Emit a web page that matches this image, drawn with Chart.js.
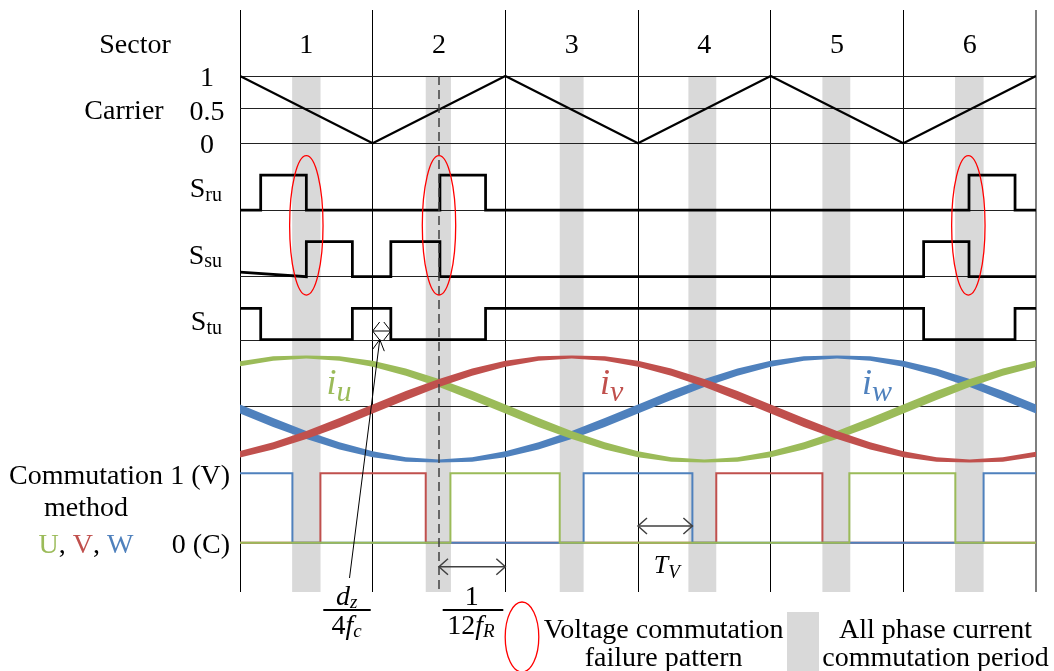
<!DOCTYPE html>
<html>
<head>
<meta charset="utf-8">
<script src="https://cdn.jsdelivr.net/npm/chart.js@4.4.0/dist/chart.umd.min.js"></script>
<style>
  html, body { margin: 0; padding: 0; background: #fff; }
</style>
</head>
<body>
<canvas id="myChart" width="1054" height="671"></canvas>
<script>
// x is measured in sectors (0 .. 6)
var sectorLabels = ["1", "2", "3", "4", "5", "6"];
var carrierX = [0, 1, 2, 3, 4, 5, 6];
var carrierY = [1, 0, 1, 0, 1, 0, 1];
var carrierTicks = [1, 0.5, 0];

// switching signals: level at x = 0, then the toggle positions
var sruStart = 0;
var sruEdges = [0.156, 0.50, 1.507, 1.851, 5.495, 5.842];
var ssuStart = 0.13;
var ssuEdges = [0.50, 0.847, 1.137, 1.507, 5.153, 5.495];
var stuStart = 1;
var stuEdges = [0.156, 0.847, 1.137, 1.851, 5.153, 5.842];

// phase currents (per unit), read every quarter sector
var currentX = [0, 0.25, 0.5, 0.75, 1, 1.25, 1.5, 1.75, 2, 2.25, 2.5, 2.75, 3,
    3.25, 3.5, 3.75, 4, 4.25, 4.5, 4.75, 5, 5.25, 5.5, 5.75, 6];
var iuValues = [0.87, 0.97, 1.00, 0.97, 0.87, 0.71, 0.50, 0.26, 0.00, -0.26, -0.50, -0.71, -0.87,
    -0.97, -1.00, -0.97, -0.87, -0.71, -0.50, -0.26, 0.00, 0.26, 0.50, 0.71, 0.87];
var ivValues = [-0.87, -0.71, -0.50, -0.26, 0.00, 0.26, 0.50, 0.71, 0.87, 0.97, 1.00, 0.97, 0.87,
    0.71, 0.50, 0.26, 0.00, -0.26, -0.50, -0.71, -0.87, -0.97, -1.00, -0.97, -0.87];
var iwValues = [0.00, -0.26, -0.50, -0.71, -0.87, -0.97, -1.00, -0.97, -0.87, -0.71, -0.50, -0.26, 0.00,
    0.26, 0.50, 0.71, 0.87, 0.97, 1.00, 0.97, 0.87, 0.71, 0.50, 0.26, 0.00];

// commutation method, 1 = V, 0 = C
var comUStart = 0;
var comUEdges = [1.586, 2.41, 4.593, 5.392];
var comVStart = 0;
var comVEdges = [0.606, 1.40, 3.59, 4.39];
var comWStart = 1;
var comWEdges = [0.395, 2.59, 3.41, 5.605];

// all phase current commutation periods
var bandStart = [0.393, 1.40, 2.41, 3.38, 4.39, 5.39];
var bandEnd = [0.607, 1.59, 2.59, 3.59, 4.60, 5.605];

// voltage commutation failure patterns
var failureX = [0.5, 1.5, 5.49];

var dashX = 1.5;
var dzArrow = [1.0, 1.137];
var fRArrow = [1.5, 2.0];
var tvArrow = [3.0, 3.41];

// ---- layout (pixels) ----
var rows = {
    carrier: { zero: 143.3, one: 76 },
    sru: { zero: 210, one: 175 },
    ssu: { zero: 276.7, one: 241.7 },
    stu: { zero: 339.5, one: 308.3 },
    cur: { zero: 409, one: 357 },
    com: { zero: 542.7, one: 473.3 }
};
var gridLevels = [76, 108.3, 143.3, 210, 276.7, 340.5, 406.7];
var SECTOR_PX = 796 / 6;

var GREEN = "#9BBB59";
var RED = "#C0504D";
var BLUE = "#4F81BD";
var BAND = "#D9D9D9";
var SERIF = '"Liberation Serif", "Times New Roman", serif';

function rowY(row, v) {
    return row.zero + (row.one - row.zero) * v;
}

function stepPoints(row, start, edges) {
    var state = start >= 1 ? 1 : 0;
    var pts = [{ x: 0, y: rowY(row, start) }];
    edges.forEach(function (e) {
        pts.push({ x: e, y: rowY(row, state) });
        state = 1 - state;
        pts.push({ x: e, y: rowY(row, state) });
    });
    pts.push({ x: 6, y: rowY(row, state) });
    return pts;
}

function signalSet(pts, color, width, order) {
    return {
        data: pts,
        borderColor: color,
        borderWidth: width,
        pointRadius: 0,
        tension: 0,
        fill: false,
        order: order
    };
}

// the current traces get thicker where they change fastest:
// drawn as a filled ribbon between an upper and a lower edge
function currentRibbon(values, color, order) {
    var amp = rows.cur.zero - rows.cur.one;
    var n = values.length;
    var upper = [];
    var lower = [];
    values.forEach(function (v, i) {
        var i0 = Math.max(0, i - 1);
        var i1 = Math.min(n - 1, i + 1);
        var slope = (values[i1] - values[i0]) / (currentX[i1] - currentX[i0]);
        var s = Math.min(1, Math.abs(slope) / (Math.PI / 3));
        var w = 3 + 5.5 * s;
        var m = slope * amp / SECTOR_PX;
        var h = w * Math.sqrt(1 + m * m) / 2;
        var y = rowY(rows.cur, v);
        upper.push({ x: currentX[i], y: y - h });
        lower.push({ x: currentX[i], y: y + h });
    });
    return [
        {
            data: upper,
            borderWidth: 0,
            borderColor: color,
            backgroundColor: color,
            pointRadius: 0,
            tension: 0,
            fill: "+1",
            order: order
        },
        {
            data: lower,
            borderWidth: 0,
            borderColor: color,
            pointRadius: 0,
            tension: 0,
            fill: false,
            order: order
        }
    ];
}

function drawRich(ctx, parts, x, y, align) {
    var w = 0;
    parts.forEach(function (p) {
        ctx.font = p[1];
        w += ctx.measureText(p[0]).width;
    });
    var cx = align === "center" ? x - w / 2 : align === "right" ? x - w : x;
    ctx.textAlign = "left";
    ctx.textBaseline = "alphabetic";
    parts.forEach(function (p) {
        ctx.font = p[1];
        ctx.fillStyle = p[2] || "#000";
        ctx.fillText(p[0], cx, y + (p[3] || 0));
        cx += ctx.measureText(p[0]).width;
    });
}

function arrowHead(ctx, tipX, tipY, fromX, fromY, len, half) {
    var a = Math.atan2(tipY - fromY, tipX - fromX);
    var bx = tipX - len * Math.cos(a);
    var by = tipY - len * Math.sin(a);
    ctx.beginPath();
    ctx.moveTo(bx + half * Math.sin(a), by - half * Math.cos(a));
    ctx.lineTo(tipX, tipY);
    ctx.lineTo(bx - half * Math.sin(a), by + half * Math.cos(a));
    ctx.stroke();
}

function doubleArrow(ctx, x1, x2, y, len, half) {
    ctx.beginPath();
    ctx.moveTo(x1, y);
    ctx.lineTo(x2, y);
    ctx.stroke();
    arrowHead(ctx, x1, y, x2, y, len, half);
    arrowHead(ctx, x2, y, x1, y, len, half);
}

var f28 = "28px " + SERIF;
var i28 = "italic 28px " + SERIF;

var decorPlugin = {
    id: "decor",
    beforeDraw: function (chart) {
        var ctx = chart.ctx;
        var xs = chart.scales.x;
        var area = chart.chartArea;
        ctx.save();
        ctx.fillStyle = BAND;
        bandStart.forEach(function (s, i) {
            var x1 = xs.getPixelForValue(s);
            var x2 = xs.getPixelForValue(bandEnd[i]);
            ctx.fillRect(x1, rows.carrier.one, x2 - x1, area.bottom - rows.carrier.one);
        });
        // legend swatch
        ctx.fillRect(787, 612, 32, 59);
        ctx.restore();
    },
    afterDatasetsDraw: function (chart) {
        var ctx = chart.ctx;
        var xs = chart.scales.x;
        var area = chart.chartArea;
        ctx.save();

        // dashed marker
        var dx = xs.getPixelForValue(dashX);
        ctx.strokeStyle = "#404040";
        ctx.lineWidth = 1.5;
        ctx.setLineDash([9, 5]);
        ctx.beginPath();
        ctx.moveTo(dx, rows.carrier.one);
        ctx.lineTo(dx, area.bottom);
        ctx.stroke();
        ctx.setLineDash([]);

        // failure pattern ellipses
        ctx.strokeStyle = "#FF0000";
        ctx.lineWidth = 1.3;
        failureX.forEach(function (u) {
            ctx.beginPath();
            ctx.ellipse(xs.getPixelForValue(u), 225.4, 16.7, 69.7, 0, 0, Math.PI * 2);
            ctx.stroke();
        });
        ctx.beginPath();
        ctx.ellipse(522, 637, 16.8, 35, 0, 0, Math.PI * 2);
        ctx.stroke();

        // dz / 4fc arrow and pointer
        ctx.strokeStyle = "#000";
        ctx.lineWidth = 1;
        var a1 = xs.getPixelForValue(dzArrow[0]);
        var a2 = xs.getPixelForValue(dzArrow[1]);
        doubleArrow(ctx, a1, a2, 331, 7, 9);
        var tipX = (a1 + a2) / 2 - 2;
        ctx.beginPath();
        ctx.moveTo(349.5, 578);
        ctx.lineTo(tipX, 339.5);
        ctx.stroke();
        arrowHead(ctx, tipX, 339.5, 349.5, 578, 11, 6);

        // 1/12fR and Tv arrows
        ctx.strokeStyle = "#404040";
        ctx.lineWidth = 1.5;
        doubleArrow(ctx, xs.getPixelForValue(fRArrow[0]), xs.getPixelForValue(fRArrow[1]), 566.7, 9, 8);
        doubleArrow(ctx, xs.getPixelForValue(tvArrow[0]), xs.getPixelForValue(tvArrow[1]), 526, 9, 8);

        // fraction bars
        ctx.strokeStyle = "#000";
        ctx.lineWidth = 2;
        ctx.beginPath();
        ctx.moveTo(323.3, 610);
        ctx.lineTo(370.7, 610);
        ctx.moveTo(442.7, 610);
        ctx.lineTo(503.3, 610);
        ctx.stroke();

        // ---- texts ----
        drawRich(ctx, [["Sector", f28]], 135, 52.5, "center");
        sectorLabels.forEach(function (s, i) {
            drawRich(ctx, [[s, f28]], xs.getPixelForValue(i + 0.5), 52.5, "center");
        });
        drawRich(ctx, [["Carrier", f28]], 124, 119, "center");
        carrierTicks.forEach(function (t) {
            drawRich(ctx, [[String(t), f28]], 207, rowY(rows.carrier, t) + 10, "center");
        });
        var sub20 = "20px " + SERIF;
        drawRich(ctx, [["S", f28], ["ru", sub20, "#000", 3.5]], 222, 197, "right");
        drawRich(ctx, [["S", f28], ["su", sub20, "#000", 3.5]], 222, 263.5, "right");
        drawRich(ctx, [["S", f28], ["tu", sub20, "#000", 3.5]], 222, 330, "right");

        drawRich(ctx, [["Commutation", f28]], 86, 484, "center");
        drawRich(ctx, [["method", f28]], 86, 516, "center");
        drawRich(ctx, [["U", f28, GREEN], [", ", f28], ["V", f28, RED], [", ", f28], ["W", f28, BLUE]], 86, 552.5, "center");
        drawRich(ctx, [["1 (V)", f28]], 230, rowY(rows.com, 1) + 10.5, "right");
        drawRich(ctx, [["0 (C)", f28]], 230, rowY(rows.com, 0) + 10, "right");

        // current labels
        var iBig = "italic 36px " + SERIF;
        var iSub = "italic 30px " + SERIF;
        drawRich(ctx, [["i", iBig, GREEN], ["u", iSub, GREEN, 7]], 326.6, 394, "left");
        drawRich(ctx, [["i", iBig, RED], ["v", iSub, RED, 7]], 600, 394, "left");
        drawRich(ctx, [["i", iBig, BLUE], ["w", iSub, BLUE, 7]], 862, 394, "left");

        // fractions and Tv
        var isub18 = "italic 19px " + SERIF;
        drawRich(ctx, [["d", i28], ["z", isub18, "#000", 3]], 346.7, 605, "center");
        drawRich(ctx, [["4", f28], ["f", i28], ["c", isub18, "#000", 3]], 346.7, 634, "center");
        drawRich(ctx, [["1", f28]], 471.7, 605, "center");
        drawRich(ctx, [["12", f28], ["f", i28], ["R", isub18, "#000", 3]], 471, 634, "center");
        drawRich(ctx, [["T", "italic 26px " + SERIF], ["V", isub18, "#000", 4.5]], 666.7, 573.3, "center");

        // legend texts
        drawRich(ctx, [["Voltage commutation", f28]], 663.6, 638, "center");
        drawRich(ctx, [["failure pattern", f28]], 663.6, 666, "center");
        drawRich(ctx, [["All phase current", f28]], 935.5, 638, "center");
        drawRich(ctx, [["commutation period", f28]], 935.5, 666, "center");

        ctx.restore();
    }
};

var datasets = [
    signalSet(carrierX.map(function (x, i) {
        return { x: x, y: rowY(rows.carrier, carrierY[i]) };
    }), "#000", 2.2, 1),
    signalSet(stepPoints(rows.sru, sruStart, sruEdges), "#000", 2.75, 1),
    signalSet(stepPoints(rows.ssu, ssuStart, ssuEdges), "#000", 2.75, 1),
    signalSet(stepPoints(rows.stu, stuStart, stuEdges), "#000", 2.75, 1)
]
    .concat(currentRibbon(iuValues, GREEN, 3))
    .concat(currentRibbon(ivValues, RED, 2))
    .concat(currentRibbon(iwValues, BLUE, 4))
    .concat([
        signalSet(stepPoints(rows.com, comUStart, comUEdges), GREEN, 2, 5),
        signalSet(stepPoints(rows.com, comWStart, comWEdges), BLUE, 2, 6),
        signalSet(stepPoints(rows.com, comVStart, comVEdges), RED, 2, 7)
    ]);

var ctx = document.getElementById("myChart").getContext("2d");
var myChart = new Chart(ctx, {
    type: "line",
    data: { datasets: datasets },
    options: {
        responsive: false,
        animation: false,
        events: [],
        layout: { padding: { left: 240, right: 18, top: 10, bottom: 79 } },
        plugins: {
            legend: { display: false },
            tooltip: { enabled: false },
            filler: { propagate: false }
        },
        scales: {
            x: {
                type: "linear",
                min: 0,
                max: 6,
                ticks: { display: false, stepSize: 1 },
                grid: {
                    drawTicks: false,
                    color: function (c) {
                        return c.tick && c.tick.value === 6 ? "#7f7f7f" : "#000";
                    },
                    lineWidth: function (c) {
                        return c.tick && c.tick.value === 6 ? 2 : 1;
                    }
                },
                border: { display: false }
            },
            y: {
                type: "linear",
                reverse: true,
                min: 10,
                max: 592,
                afterBuildTicks: function (scale) {
                    scale.ticks = gridLevels.map(function (v) {
                        return { value: v };
                    });
                },
                ticks: { display: false },
                grid: { drawTicks: false, color: "#222", lineWidth: 1 },
                border: { display: false }
            }
        }
    },
    plugins: [decorPlugin]
});
</script>
</body>
</html>
